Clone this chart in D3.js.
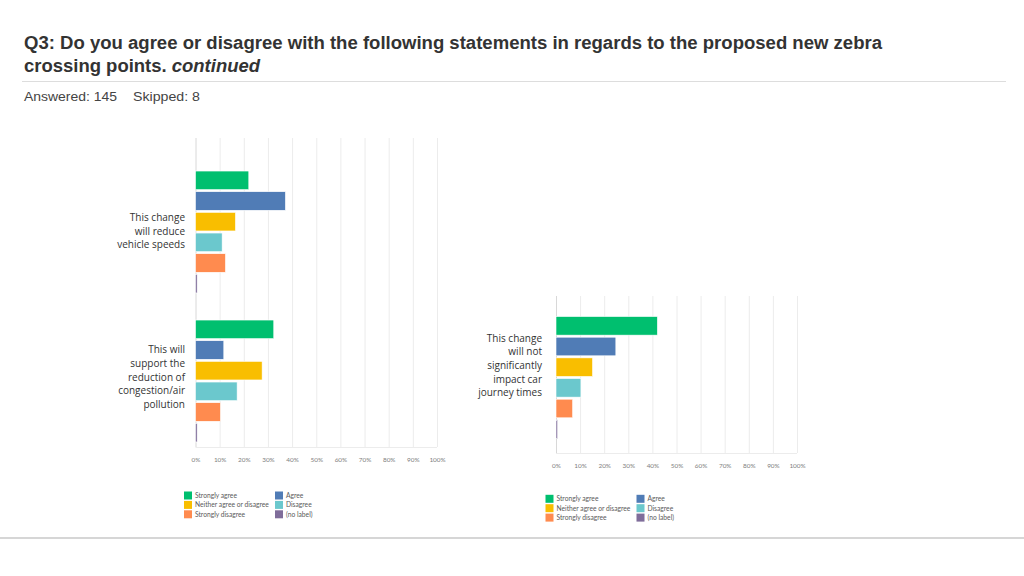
<!DOCTYPE html>
<html><head><meta charset="utf-8">
<script src="https://cdn.jsdelivr.net/npm/d3@7"></script>
<style>
body{margin:0;background:#fff;}
svg{display:block;}
</style></head>
<body><svg id="c" width="1024" height="576"></svg>
<script>
// ---- data ----
const titleLine1 = "Q3: Do you agree or disagree with the following statements in regards to the proposed new zebra";
const titleLine2 = "crossing points.";
const titleItalic = "continued";
const answered = "Answered: 145";
const skipped = "Skipped: 8";
const responses = ["Strongly agree","Agree","Neither agree or disagree","Disagree","Strongly disagree","(no label)"];
const colors = ["#00BF6F","#507CB6","#F9BE00","#6BC8CD","#FF8B4F","#7F6D9A"];
const leftStatements = ["This change will reduce vehicle speeds","This will support the reduction of congestion/air pollution"];
const leftLabelLines = [["This change","will reduce","vehicle speeds"],["This will","support the","reduction of","congestion/air","pollution"]];
const leftValues = [
  [22.07, 37.24, 16.55, 11.03, 12.41, 0.69],
  [32.41, 11.72, 27.59, 17.24, 10.34, 0.69]
];
const rightStatements = ["This change will not significantly impact car journey times"];
const rightLabelLines = [["This change","will not","significantly","impact car","journey times"]];
const rightValues = [
  [42.07, 24.83, 15.17, 10.34, 6.90, 0.69]
];
const tickValues = [0,10,20,30,40,50,60,70,80,90,100];

const svg = d3.select("#c");

// header
const head = svg.append("g");
head.append("text").attr("x",24).attr("y",49).attr("font-family","Liberation Sans, Arial, sans-serif")
  .attr("font-weight","bold").attr("font-size",17.5).attr("fill","#333")
  .attr("textLength",858).attr("lengthAdjust","spacingAndGlyphs").text(titleLine1);
const t2 = head.append("text").attr("x",24).attr("y",72).attr("font-family","Liberation Sans, Arial, sans-serif")
  .attr("font-weight","bold").attr("font-size",17.5).attr("fill","#333")
  .attr("textLength",236).attr("lengthAdjust","spacingAndGlyphs");
t2.append("tspan").text(titleLine2 + " ");
t2.append("tspan").attr("font-style","italic").text(titleItalic);
head.append("line").attr("x1",22).attr("x2",1006).attr("y1",81.5).attr("y2",81.5).attr("stroke","#ddd");
head.append("text").attr("x",24).attr("y",101).attr("font-family","Liberation Sans, Arial, sans-serif")
  .attr("font-size",13).attr("fill","#444").attr("textLength",93).attr("lengthAdjust","spacingAndGlyphs").text(answered);
head.append("text").attr("x",133).attr("y",101).attr("font-family","Liberation Sans, Arial, sans-serif")
  .attr("font-size",13).attr("fill","#444").attr("textLength",67).attr("lengthAdjust","spacingAndGlyphs").text(skipped);
svg.append("rect").attr("x",0).attr("y",537).attr("width",1024).attr("height",2).attr("fill","#d6d6d6");

function drawChart(cfg){
  const g = svg.append("g");
  const x = d3.scaleLinear().domain([0,100]).range([cfg.x0, cfg.x1]);
  const yG = d3.scaleBand().domain(cfg.statements).range([cfg.barsTop, cfg.barsTop + cfg.groupStep*cfg.statements.length]);
  const yR = d3.scaleBand().domain(responses).range([0,124]).paddingInner(0.1).paddingOuter(0.05);
  const col = d3.scaleOrdinal().domain(responses).range(colors);

  // gridlines
  g.selectAll("line.grid").data(tickValues).join("line")
    .attr("x1",d=>x(d)+0.5).attr("x2",d=>x(d)+0.5)
    .attr("y1",cfg.gridTop).attr("y2",cfg.gridBottom)
    .attr("stroke",(d)=> d===0 ? "#d8d8d8" : "#ececec").attr("stroke-width",1);
  g.append("line").attr("x1",cfg.x0).attr("x2",cfg.x1).attr("y1",cfg.gridBottom+0.5).attr("y2",cfg.gridBottom+0.5)
    .attr("stroke","#ececec");

  // axis labels
  const ax = g.append("g").attr("transform",`translate(0,${cfg.gridBottom})`)
    .call(d3.axisBottom(x).tickValues(tickValues).tickSize(0).tickPadding(10).tickFormat(d=>d+"%"));
  ax.select(".domain").remove();
  ax.selectAll("text").attr("font-family","Lato, Open Sans, sans-serif").attr("font-size",6.4).attr("fill","#808080");

  // bars
  cfg.statements.forEach((s,i)=>{
    const gg = g.append("g").attr("transform",`translate(0,${yG(s)})`);
    gg.selectAll("rect").data(cfg.values[i].map((v,j)=>({r:responses[j],v}))).join("rect")
      .attr("x",x(0)).attr("y",d=>yR(d.r)).attr("height",yR.bandwidth())
      .attr("width",d=>Math.max(1.5, x(d.v)-x(0))).attr("fill",d=>col(d.r))
      .attr("stroke","#fff").attr("stroke-width",0.6);
    const lines = cfg.labels[i];
    const cy = yG(s) + 62 + cfg.labelShift[i];
    const lh = 13.6;
    const t = gg.append("text").attr("text-anchor","end").attr("font-family","Open Sans, sans-serif")
      .attr("font-size",10).attr("fill","#333");
    lines.forEach((ln,k)=>{
      t.append("tspan").attr("x",cfg.labelX).attr("y", cy - yG(s) + (k-(lines.length-1)/2)*lh + 3.5).text(ln);
    });
  });

  // legend
  const lg = g.append("g").attr("transform",`translate(${cfg.legX},${cfg.legY})`);
  responses.forEach((r,j)=>{
    const colI = j%2, row = Math.floor(j/2);
    const cx = colI===0 ? 0 : 91;
    const item = lg.append("g").attr("transform",`translate(${cx},${row*9.4})`);
    item.append("rect").attr("x",0).attr("y",-4).attr("width",8).attr("height",8).attr("fill",col(r));
    item.append("text").attr("x",11).attr("y",2.3).attr("font-family","Lato, Open Sans, sans-serif")
      .attr("font-size",6.7).attr("fill","#5a5a5a").text(r);
  });
}

drawChart({statements:leftStatements, values:leftValues, labels:leftLabelLines,
  x0:195.5, x1:437, barsTop:170, groupStep:149, gridTop:138, gridBottom:447,
  labelX:185, labelShift:[-1,-4], legX:184, legY:495.5});
drawChart({statements:rightStatements, values:rightValues, labels:rightLabelLines,
  x0:556, x1:797, barsTop:315.5, groupStep:149, gridTop:296, gridBottom:453,
  labelX:542, labelShift:[-12], legX:545.5, legY:498.8});
</script></body></html>
